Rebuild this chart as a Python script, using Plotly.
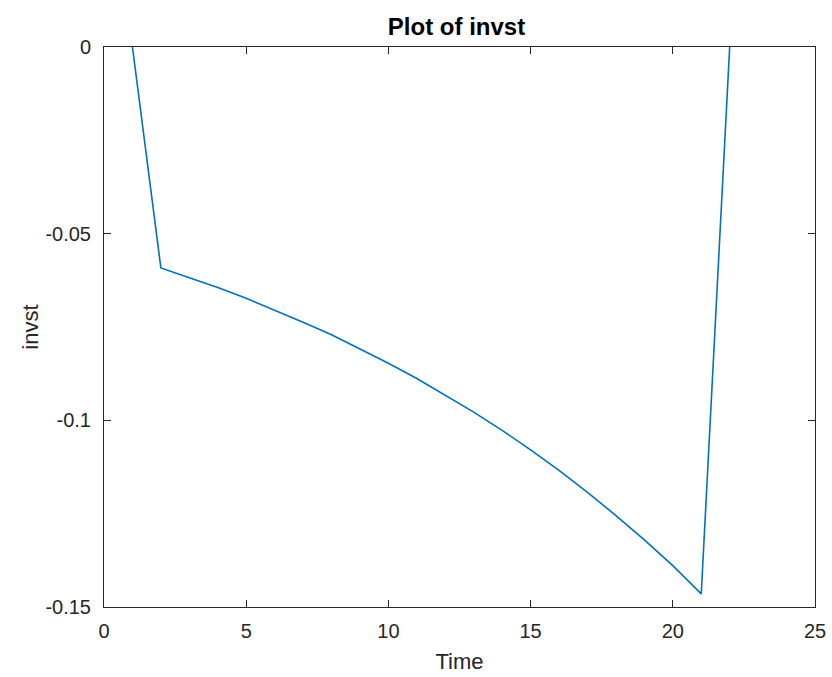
import plotly.graph_objects as go

time = [1, 2, 3, 4, 5, 6, 7, 8, 9, 10, 11, 12, 13, 14, 15, 16, 17, 18, 19, 20, 21, 22]
invst = [0.0, -0.0592, -0.0618, -0.0644, -0.0673, -0.0704, -0.0737, -0.0771, -0.0808,
         -0.0847, -0.0888, -0.0932, -0.0978, -0.1027, -0.1079, -0.1134, -0.1193,
         -0.1255, -0.1320, -0.1389, -0.1465, 0.0]

x_ticks = [0, 5, 10, 15, 20, 25]
y_ticks = [-0.15, -0.1, -0.05, 0]
y_tick_labels = ["-0.15", "-0.1", "-0.05", "0"]

FONT = "Liberation Sans, Arial, sans-serif"

fig = go.Figure()
fig.add_trace(go.Scatter(x=time, y=invst, mode="lines",
                         line=dict(color="#0072BD", width=1.6), showlegend=False))

axis_common = dict(
    showgrid=False, zeroline=False, showline=True, linecolor="#262626", linewidth=1,
    mirror="ticks", ticks="inside", ticklen=7, tickcolor="#262626", tickwidth=1,
    tickfont=dict(family=FONT, size=20, color="#262626"),
)

fig.update_layout(
    width=832, height=677,
    margin=dict(l=104, r=17, t=47, b=70),
    paper_bgcolor="white", plot_bgcolor="white",
    title=dict(text="<b>Plot of invst</b>", x=0.5487, xanchor="center",
               y=1 - 26.5 / 677, yanchor="middle",
               font=dict(family=FONT, size=24, color="black")),
    xaxis=dict(range=[0, 25], tickvals=x_ticks, ticktext=[str(v) for v in x_ticks],
               ticklabelstandoff=6, automargin=False,
               title=dict(text="Time", standoff=12,
                          font=dict(family=FONT, size=22, color="#262626")),
               **axis_common),
    yaxis=dict(range=[-0.15, 0], tickvals=y_ticks, ticktext=y_tick_labels,
               ticklabelstandoff=8, automargin=False,
               title=dict(text="invst", standoff=0,
                          font=dict(family=FONT, size=22, color="#262626")),
               **axis_common),
)

fig.write_html("out.html")
